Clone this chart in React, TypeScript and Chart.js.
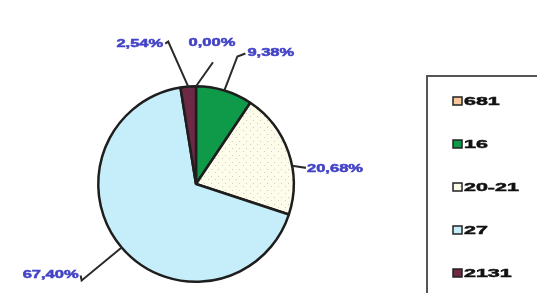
import React, { useEffect, useRef } from "react";
import { Chart, registerables } from "chart.js";
Chart.register(...registerables);

const categories = ["681", "16", "20-21", "27", "2131"];
const shares = [0.0, 9.38, 20.68, 67.4, 2.54];
const sliceColors = ["#f7c99a", "#0f9a4a", "DOTTED", "#c6eefa", "#6e2a44"];

// label layout: anchor fraction inside slice, elbow offset from anchor, text offset from elbow, alignment
const labelLayout = [
  { frac: 0.5, ex: 17, ey: -24, tx: -1, ty: -19, align: "center" },
  { frac: 0.5, ex: 13, ey: -34, tx: 10, ty: -3, align: "left" },
  { frac: 0.61, ex: 13, ey: 2, tx: 2, ty: 1, align: "left" },
  { frac: 0.5, ex: -40, ey: 33, tx: -3, ty: -5, align: "right" },
  { frac: 0.5, ex: -20, ey: -45, tx: -5, ty: 2, align: "right" },
];

const fmtPct = (v: number) => v.toFixed(2).replace(".", ",") + "%";

function makeDots(): CanvasPattern | string {
  const c = document.createElement("canvas");
  c.width = 7;
  c.height = 7;
  const g = c.getContext("2d");
  if (!g) return "#fdfbea";
  g.fillStyle = "#fdfbea";
  g.fillRect(0, 0, 7, 7);
  g.fillStyle = "#cfcfc0";
  g.fillRect(1, 1, 1, 1);
  g.fillRect(5, 4, 1, 1);
  const p = g.createPattern(c, "repeat");
  return p || "#fdfbea";
}

function drawStretched(ctx: CanvasRenderingContext2D, text: string, x: number, y: number, align: string, color: string, font: string, stretch: number) {
  ctx.save();
  ctx.font = font;
  ctx.fillStyle = color;
  ctx.strokeStyle = color;
  ctx.lineWidth = 0.5;
  ctx.textBaseline = "middle";
  const w = ctx.measureText(text).width * stretch;
  let left = x;
  if (align === "center") left = x - w / 2;
  else if (align === "right") left = x - w;
  ctx.translate(left, y);
  ctx.scale(stretch, 1);
  ctx.textAlign = "left";
  ctx.fillText(text, 0, 0);
  ctx.strokeText(text, 0, 0);
  ctx.restore();
}

const labelsPlugin = {
  id: "pieLabels",
  afterDatasetsDraw(chart: any) {
    const ctx: CanvasRenderingContext2D = chart.ctx;
    const meta = chart.getDatasetMeta(0);
    meta.data.forEach((arc: any, i: number) => {
      const L = labelLayout[i];
      const { x, y, startAngle, endAngle, outerRadius } = arc.getProps(["x", "y", "startAngle", "endAngle", "outerRadius"], true);
      const a = startAngle + (endAngle - startAngle) * L.frac;
      const ax = x + Math.cos(a) * outerRadius;
      const ay = y + Math.sin(a) * outerRadius;
      const exx = ax + L.ex;
      const eyy = ay + L.ey;
      ctx.save();
      ctx.strokeStyle = "#2a2a2a";
      ctx.lineWidth = 2;
      ctx.beginPath();
      ctx.moveTo(ax, ay);
      ctx.lineTo(exx, eyy);
      if (L.align === "left") ctx.lineTo(exx + L.tx - 2, eyy + L.ty);
      if (L.align === "right") ctx.lineTo(exx + L.tx + 2, eyy + L.ty);
      ctx.stroke();
      ctx.restore();
      drawStretched(ctx, fmtPct(shares[i]), exx + L.tx, eyy + L.ty, L.align, "#4343c6", "bold 11px 'Liberation Sans', Arial, sans-serif", 1.5);
    });
  },
};

const legendPlugin = {
  id: "boxLegend",
  afterDraw(chart: any) {
    const ctx: CanvasRenderingContext2D = chart.ctx;
    const bx = 427, by = 76;
    ctx.save();
    ctx.strokeStyle = "#555";
    ctx.lineWidth = 2;
    ctx.strokeRect(bx, by, 140, 240);
    const ds = chart.data.datasets[0];
    categories.forEach((c, i) => {
      const cy = 101 + i * 43;
      ctx.fillStyle = ds.backgroundColor[i];
      ctx.fillRect(453, cy - 4, 9, 8);
      ctx.strokeStyle = "#222";
      ctx.lineWidth = 1.5;
      ctx.strokeRect(453, cy - 4, 9, 8);
      drawStretched(ctx, c, 464, cy + 1, "left", "#111", "bold 11px 'Liberation Sans', Arial, sans-serif", 1.95);
    });
    ctx.restore();
  },
};

export default function App() {
  const ref = useRef<HTMLCanvasElement>(null);
  useEffect(() => {
    document.body.style.margin = "0";
    const dots = makeDots();
    const colors = sliceColors.map((c) => (c === "DOTTED" ? dots : c));
    const chart = new Chart(ref.current!, {
      type: "pie",
      data: {
        labels: categories,
        datasets: [
          {
            data: shares,
            backgroundColor: colors as any,
            borderColor: "#1e1e1e",
            borderWidth: 2.5,
          },
        ],
      },
      options: {
        animation: false,
        responsive: false,
        layout: { padding: { left: 97, top: 85, right: 242, bottom: 10 } },
        plugins: {
          legend: { display: false },
          tooltip: { enabled: false },
          title: { display: false },
        },
      },
      plugins: [labelsPlugin, legendPlugin],
    });
    return () => chart.destroy();
  }, []);
  return (
    <div style={{ width: 537, height: 293, background: "#fff" }}>
      <canvas ref={ref} width={537} height={293} style={{ display: "block" }} />
    </div>
  );
}
